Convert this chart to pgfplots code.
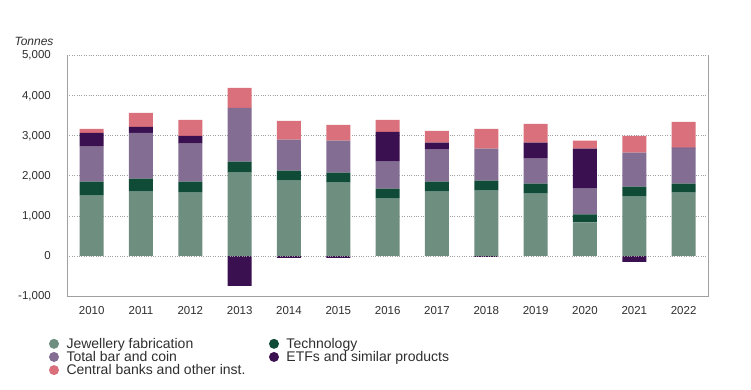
\documentclass[border=0pt]{standalone}
\usepackage{pgfplots}
\pgfplotsset{compat=1.18}
\usepackage{pgfplotstable}
\usepackage{fontspec}
\setmainfont{Liberation Sans}
\definecolor{cJew}{HTML}{6E8E80}
\definecolor{cTech}{HTML}{0F4B37}
\definecolor{cBar}{HTML}{836D93}
\definecolor{cETF}{HTML}{3A1050}
\definecolor{cCB}{HTML}{D9707B}
\definecolor{txt}{HTML}{2E2E2E}
\definecolor{axgray}{HTML}{A0A0A0}
\pgfplotstableread{
x jew tech bar etf cb etfneg
0 1509 348 870 349 99 0
1 1608 324 1144 149 348 0
2 1583 274 945 199 398 0
3 2081 273 1343 0 498 -746
4 1882 249 771 0 472 -50
5 1832 249 796 0 398 -50
6 1434 249 671 746 299 0
7 1608 249 796 174 298 0
8 1633 249 796 0 497 -20
9 1559 248 622 398 472 0
10 837 199 647 995 199 0
11 1484 249 845 0 423 -149
12 1583 224 871 25 646 0
}\gold
\pgfplotsset{dot/.style={legend image code/.code={\path[draw=none, fill=#1] (0bp,0bp) circle (5bp);}}}
\begin{document}
\begin{tikzpicture}
\path[use as bounding box] (-67bp,-94bp) rectangle (684bp,296bp);
% legend only
\begin{axis}[
  at={(0,0)}, anchor=south west,
  scale only axis, width=641.3bp, height=240.3bp,
  xmin=-0.5, xmax=12.5, ymin=-1000, ymax=5000,
  hide axis,
  legend columns=2,
  legend style={draw=none, fill=none, inner sep=0pt, outer sep=0pt,
    at={(rel axis cs:0,0)}, anchor=north west, xshift=-18bp, yshift=-41.5bp,
    font=\fontsize{14bp}{16bp}\selectfont, text=txt,
    cells={anchor=west}, nodes={inner sep=0.5bp}, row sep=0.5bp,
    /tikz/every even column/.append style={column sep=23bp},
    /tikz/every odd column/.append style={column sep=7bp}},
]
\addlegendimage{dot=cJew}
\addlegendentry{Jewellery fabrication}
\addlegendimage{dot=cTech}
\addlegendentry{Technology}
\addlegendimage{dot=cBar}
\addlegendentry{Total bar and coin}
\addlegendimage{dot=cETF}
\addlegendentry{ETFs and similar products}
\addlegendimage{dot=cCB}
\addlegendentry{Central banks and other inst.}
\end{axis}
% negative ETF values
\begin{axis}[
  at={(0,0)}, anchor=south west,
  scale only axis, width=641.3bp, height=240.3bp,
  xmin=-0.5, xmax=12.5, ymin=-1000, ymax=5000,
  hide axis,
  ybar, bar width=24bp,
]
\addplot[fill=cETF, draw=none, bar shift=0pt] table[x=x,y=etfneg]{\gold};
\end{axis}
% stacked positive values
\begin{axis}[
  at={(0,0)}, anchor=south west,
  scale only axis, width=641.3bp, height=240.3bp,
  xmin=-0.5, xmax=12.5, ymin=-1000, ymax=5000,
  ybar stacked, bar width=24bp,
  axis x line*=bottom, axis y line*=left,
  axis line style={axgray, line width=0.8bp},
  ytick={-1000,0,1000,2000,3000,4000,5000},
  xtick={0,...,12},
  xticklabels={2010,2011,2012,2013,2014,2015,2016,2017,2018,2019,2020,2021,2022},
  major tick length=0pt,
  ymajorgrids,
  grid style={axgray, dotted, line width=0.8bp},
  /pgf/number format/assume math mode=true,
  /pgf/number format/1000 sep={,},
  yticklabel style={font=\fontsize{11.5bp}{13bp}\selectfont, text=txt, inner sep=0pt, xshift=-16bp},
  xticklabel style={font=\fontsize{11.5bp}{13bp}\selectfont, text=txt, inner sep=0pt, anchor=north, yshift=-10bp},
  clip=false,
]
\addplot[fill=cJew, draw=none] table[x=x,y=jew]{\gold};
\addplot[fill=cTech, draw=none] table[x=x,y=tech]{\gold};
\addplot[fill=cBar, draw=none] table[x=x,y=bar]{\gold};
\addplot[fill=cETF, draw=none] table[x=x,y=etf]{\gold};
\addplot[fill=cCB, draw=none] table[x=x,y=cb]{\gold};
\draw[axgray, line width=0.8bp] (rel axis cs:1,0) -- (rel axis cs:1,1);
\node[font=\itshape\fontsize{12bp}{14bp}\selectfont, text=txt] at ([xshift=-33bp,yshift=14bp]rel axis cs:0,1) {Tonnes};
\end{axis}
\end{tikzpicture}
\end{document}
